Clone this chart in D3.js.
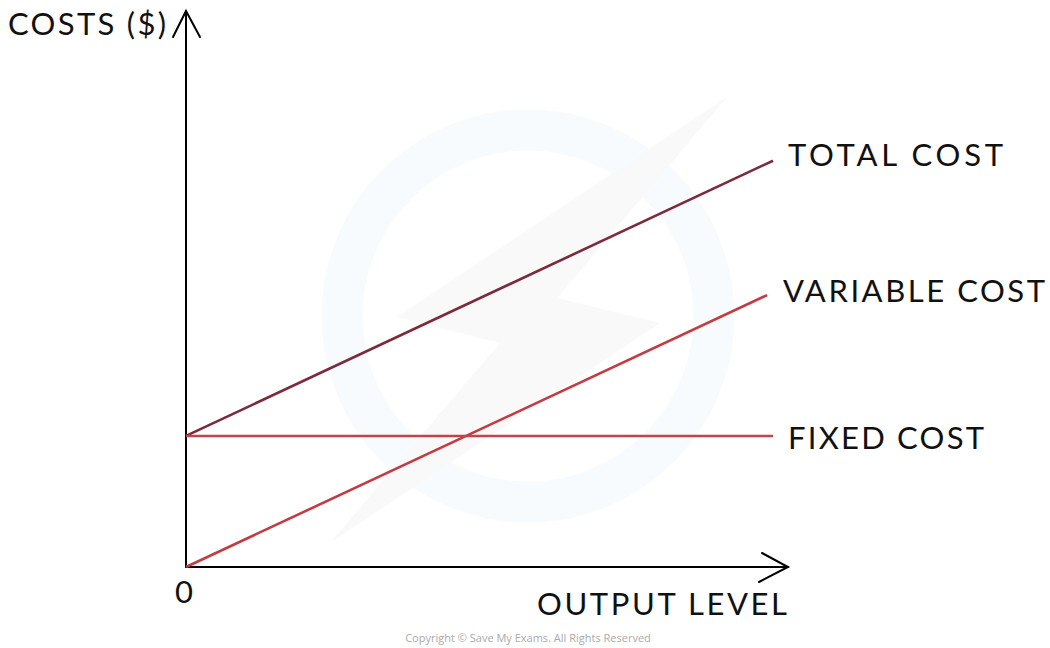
<!doctype html>
<html lang="en">
<head>
    <meta charset="UTF-8">
    <title>Costs and output</title>
    <style>
        body { margin: 0; background: #fff; }
        text { font-family: Lato, "DejaVu Sans", sans-serif; fill: #111; }
        .lbl { font-size: 31px; font-weight: 400; }
        .copy { font-size: 11px; fill: #aaa; font-family: "Open Sans", sans-serif; }
    </style>
</head>
<body>
    <svg width="1050" height="648"></svg>
    <script src="https://cdn.jsdelivr.net/npm/d3@7"></script>
    <script>
        // output level along x, costs along y
        const outputLevels = [0, 10];
        const fixedCost = [40, 40];
        const totalCost = [40, 124];
        const vcOutput = [0, 9.9];
        const variableCost = [0, 83];

        const svg = d3.select('svg');

        const x = d3.scaleLinear().domain([0, 10]).range([186, 773]);
        const y = d3.scaleLinear().domain([0, 170]).range([567, 10]);

        // faint watermark
        const wm = svg.append('g');
        wm.append('circle')
            .attr('cx', 528).attr('cy', 316).attr('r', 186)
            .attr('fill', 'none')
            .attr('stroke', '#f8fbfd')
            .attr('stroke-width', 41);
        wm.append('polygon')
            .attr('points', '727,97 557,298 660,323 330,543 500,343 397,317')
            .attr('fill', '#f9f9f9');

        // axes
        const axis = svg.append('g')
            .attr('stroke', '#000')
            .attr('stroke-width', 2)
            .attr('fill', 'none')
            .attr('stroke-linecap', 'round');

        axis.append('line')
            .attr('x1', x(0)).attr('y1', y(0))
            .attr('x2', x(0)).attr('y2', 12);
        axis.append('path')
            .attr('d', 'M173,37 L186,11 L200,37');

        axis.append('line')
            .attr('x1', x(0)).attr('y1', y(0))
            .attr('x2', 788).attr('y2', y(0));
        axis.append('path')
            .attr('d', 'M762,553 L788,567 L759,582');

        const line = d3.line()
            .x(d => x(d[0]))
            .y(d => y(d[1]));

        const series = [
            {name: 'TOTAL COST', xs: outputLevels, ys: totalCost, color: '#7b2b3c'},
            {name: 'VARIABLE COST', xs: vcOutput, ys: variableCost, color: '#c13c43'},
            {name: 'FIXED COST', xs: outputLevels, ys: fixedCost, color: '#c2444b'}
        ];

        svg.append('g').selectAll('path')
            .data(series)
            .join('path')
            .attr('d', d => line(d.xs.map((v, i) => [v, d.ys[i]])))
            .attr('fill', 'none')
            .attr('stroke', d => d.color)
            .attr('stroke-width', 2.6);

        // labels
        const labels = [
            {t: 'TOTAL COST', x: 788, y: 166, w: 215},
            {t: 'VARIABLE COST', x: 783, y: 302, w: 262},
            {t: 'FIXED COST', x: 788, y: 449, w: 196},
            {t: 'COSTS ($)', x: 8, y: 35, w: 158},
            {t: 'OUTPUT LEVEL', x: 537, y: 615, w: 250}
        ];
        svg.append('g').selectAll('text')
            .data(labels)
            .join('text')
            .attr('class', 'lbl')
            .attr('x', d => d.x)
            .attr('y', d => d.y)
            .attr('textLength', d => d.w)
            .attr('lengthAdjust', 'spacing')
            .text(d => d.t);

        svg.append('text')
            .attr('class', 'lbl')
            .attr('x', 175).attr('y', 603)
            .text('0');

        svg.append('text')
            .attr('class', 'copy')
            .attr('x', 528).attr('y', 642)
            .attr('text-anchor', 'middle')
            .text('Copyright © Save My Exams. All Rights Reserved');
    </script>
</body>
</html>
